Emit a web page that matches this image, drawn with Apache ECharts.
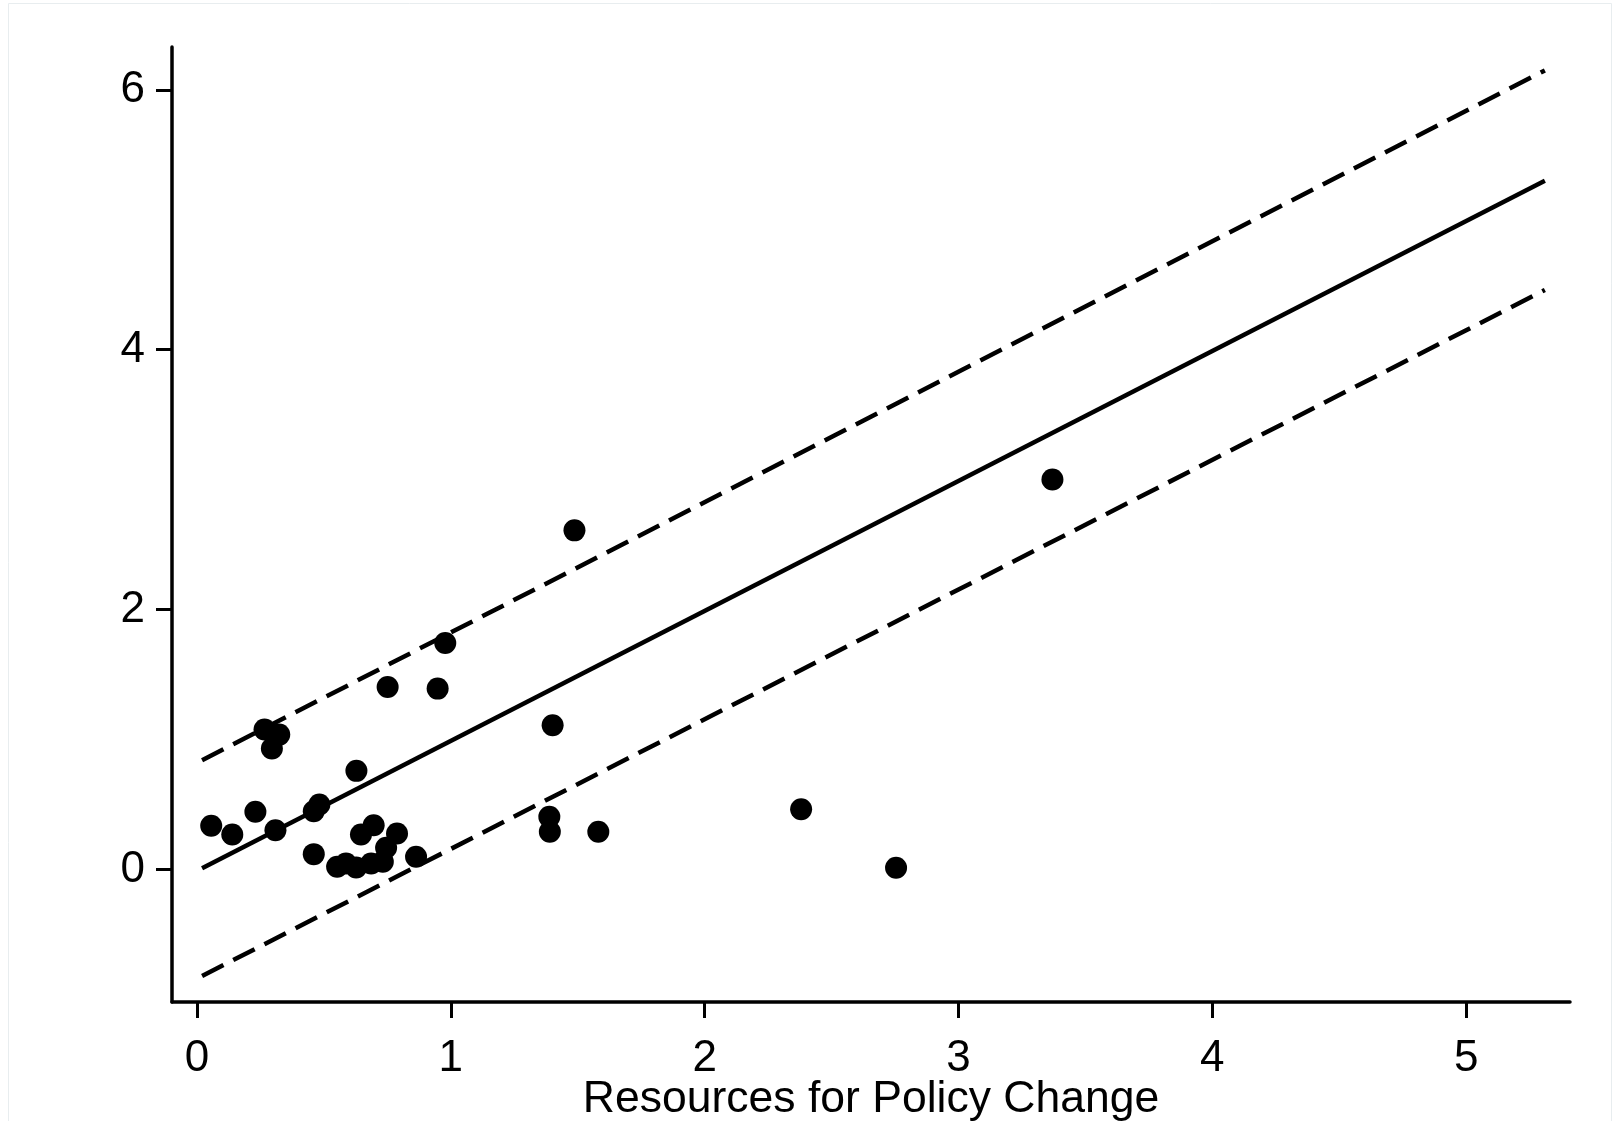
<!DOCTYPE html>
<html>
<head>
<meta charset="utf-8">
<script src="https://cdn.jsdelivr.net/npm/echarts@6/dist/echarts.min.js"></script>
<style>
html,body{margin:0;padding:0;background:#fff;overflow:hidden;}
#chart{width:1616px;height:1121px;}
</style>
</head>
<body>
<div id="chart"></div>
<script>
// Scatter data (Resources for Policy Change vs outcome)
var pointX = [0.056, 0.139, 0.230, 0.266, 0.324, 0.295, 0.309, 0.460, 0.460, 0.482,
              0.628, 0.552, 0.587, 0.627, 0.646, 0.696, 0.686, 0.732, 0.745, 0.788,
              0.863, 0.751, 0.948, 0.978, 1.401, 1.487, 1.388, 1.390, 1.581, 2.380,
              2.754, 3.370];
var pointY = [0.336, 0.269, 0.444, 1.077, 1.038, 0.931, 0.302, 0.118, 0.448, 0.500,
              0.759, 0.021, 0.046, 0.015, 0.269, 0.341, 0.046, 0.059, 0.167, 0.277,
              0.098, 1.405, 1.392, 1.743, 1.110, 2.610, 0.405, 0.290, 0.290, 0.464,
              0.013, 3.002];
// Fitted line and bounds (endpoints)
var lineX = [0.02, 5.31];
var fitY = [0.01, 5.30];
var upperY = [0.84, 6.15];
var lowerY = [-0.82, 4.46];
// Tick labels
var xTicks = [0, 1, 2, 3, 4, 5];
var yTicks = [0, 2, 4, 6];
var xTitle = 'Resources for Policy Change';

function pairs(xs, ys){ return xs.map(function(x,i){ return [x, ys[i]]; }); }

var FONT = '"Liberation Sans", Arial, Helvetica, sans-serif';
var chart = echarts.init(document.getElementById('chart'), null, {renderer:'canvas'});
chart.setOption({
  backgroundColor: '#ffffff',
  animation: false,
  graphic: [{
    type: 'rect', silent: true, z: -10,
    shape: {x: 8.5, y: 3.5, width: 1603, height: 1130},
    style: {fill: 'none', stroke: '#e8edef', lineWidth: 1}
  }],
  grid: {left: 172, right: 46, top: 47, bottom: 119, containLabel: false, outerBoundsMode: 'none'},
  xAxis: {
    type: 'value', min: -0.0985, max: 5.409,
    name: xTitle, nameLocation: 'middle', nameGap: 75, nameMoveOverlap: false,
    nameTextStyle: {fontFamily: FONT, fontSize: 44.5, color: '#000'},
    axisLine: {show: true, onZero: false, lineStyle: {color: '#000', width: 3.5}},
    axisTick: {show: true, length: 16, customValues: xTicks, lineStyle: {color: '#000', width: 3}},
    axisLabel: {show: true, customValues: xTicks, margin: 35, fontFamily: FONT, fontSize: 44, color: '#000'},
    splitLine: {show: false}
  },
  yAxis: {
    type: 'value', min: -1.02, max: 6.33,
    axisLine: {show: true, onZero: false, lineStyle: {color: '#000', width: 3.5}},
    axisTick: {show: true, length: 16, customValues: yTicks, lineStyle: {color: '#000', width: 3}},
    axisLabel: {show: true, customValues: yTicks, margin: 27, fontFamily: FONT, fontSize: 44, color: '#000'},
    splitLine: {show: false}
  },
  series: [
    {type: 'line', data: pairs(lineX, upperY), symbol: 'none', silent: true,
     lineStyle: {color: '#000', width: 4.5, type: [24, 11]}},
    {type: 'line', data: pairs(lineX, fitY), symbol: 'none', silent: true,
     lineStyle: {color: '#000', width: 4.5}},
    {type: 'line', data: pairs(lineX, lowerY), symbol: 'none', silent: true,
     lineStyle: {color: '#000', width: 4.5, type: [24, 11]}},
    {type: 'scatter', data: pairs(pointX, pointY), symbol: 'circle', symbolSize: 22,
     itemStyle: {color: '#000', opacity: 1}, z: 5}
  ]
});
</script>
</body>
</html>
